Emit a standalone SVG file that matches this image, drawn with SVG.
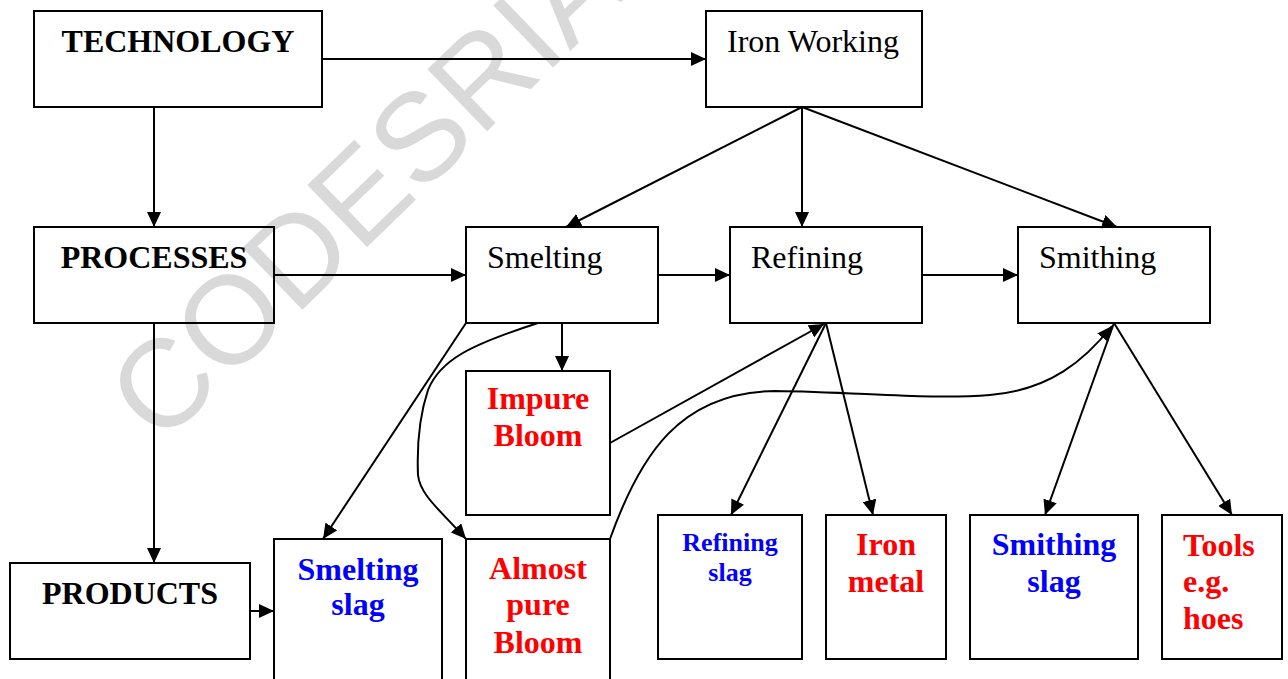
<svg xmlns="http://www.w3.org/2000/svg" width="1288" height="679" viewBox="0 0 1288 679">
<defs>
<marker id="ah" markerUnits="userSpaceOnUse" markerWidth="16" markerHeight="14" refX="15" refY="7" orient="auto">
<path d="M0,0 L15,7 L0,14 z" fill="#000"/>
</marker>
<style>
.box{fill:none;stroke:#000;stroke-width:2}
.c{fill:none;stroke:#000;stroke-width:2}
.a{marker-end:url(#ah)}
.t{font-family:"Liberation Serif","Times New Roman",serif;font-size:32px}
.b{font-weight:bold}
.m{text-anchor:middle}
.red{fill:#ff0000}
.blue{fill:#0000ff}
.wm{font-family:"Liberation Sans",Arial,sans-serif;font-size:125px;fill:#d9d9d9}
</style>
</defs>
<rect width="1288" height="679" fill="#fff"/>
<text class="wm" x="160" y="447" transform="rotate(-44 160 447)">CODESRIA</text>

<g id="connectors">
<line class="c a" x1="322" y1="59" x2="706" y2="59"/>
<line class="c a" x1="154" y1="107" x2="154" y2="227"/>
<line class="c a" x1="154" y1="323" x2="154" y2="563"/>
<line class="c a" x1="250" y1="611" x2="274" y2="611"/>
<line class="c a" x1="274" y1="275" x2="466" y2="275"/>
<line class="c a" x1="658" y1="275" x2="730" y2="275"/>
<line class="c a" x1="922" y1="275" x2="1018" y2="275"/>
<line class="c a" x1="802" y1="107" x2="566" y2="227"/>
<line class="c a" x1="802" y1="107" x2="802" y2="227"/>
<line class="c a" x1="802" y1="107" x2="1117" y2="227"/>
<line class="c a" x1="562" y1="323" x2="562" y2="371"/>
<line class="c a" x1="466" y1="323" x2="323" y2="539"/>
<path class="c a" d="M538,323 C470,345 440,360 428,390 C418,420 417,450 418,475 C420,495 440,510 466,539"/>
<line class="c a" x1="610" y1="443" x2="824" y2="324"/>
<path class="c a" d="M610,539 C640,455 680,392 775,391 C860,392 930,400 990,395 C1050,390 1085,360 1112,326"/>
<line class="c a" x1="826" y1="323" x2="731" y2="515"/>
<line class="c a" x1="826" y1="323" x2="873" y2="515"/>
<line class="c a" x1="1114" y1="323" x2="1045" y2="515"/>
<line class="c a" x1="1114" y1="323" x2="1232" y2="515"/>
</g>

<g id="technology"><rect class="box" x="34" y="11" width="288" height="96"/><text class="t b m" x="178" y="52">TECHNOLOGY</text></g>
<g id="iron-working"><rect class="box" x="706" y="11" width="216" height="96"/><text class="t" x="727" y="52">Iron Working</text></g>
<g id="processes"><rect class="box" x="34" y="227" width="240" height="96"/><text class="t b m" x="154" y="268">PROCESSES</text></g>
<g id="smelting"><rect class="box" x="466" y="227" width="192" height="96"/><text class="t" x="487" y="268">Smelting</text></g>
<g id="refining"><rect class="box" x="730" y="227" width="192" height="96"/><text class="t" x="751" y="268">Refining</text></g>
<g id="smithing"><rect class="box" x="1018" y="227" width="192" height="96"/><text class="t" x="1039" y="268">Smithing</text></g>
<g id="impure-bloom"><rect class="box" x="466" y="371" width="144" height="144"/><text class="t b m red" x="538" y="409">Impure</text><text class="t b m red" x="538" y="446">Bloom</text></g>
<g id="products"><rect class="box" x="10" y="563" width="240" height="96"/><text class="t b m" x="130" y="604">PRODUCTS</text></g>
<g id="smelting-slag"><rect class="box" x="274" y="539" width="168" height="150"/><text class="t b m blue" x="358" y="580">Smelting</text><text class="t b m blue" x="358" y="615">slag</text></g>
<g id="almost-pure-bloom"><rect class="box" x="466" y="539" width="144" height="150"/><text class="t b m red" x="538" y="579">Almost</text><text class="t b m red" x="538" y="615">pure</text><text class="t b m red" x="538" y="653">Bloom</text></g>
<g id="refining-slag"><rect class="box" x="658" y="515" width="144" height="144"/><text class="t b m blue" x="730" y="551" style="font-size:26px">Refining</text><text class="t b m blue" x="730" y="581" style="font-size:26px">slag</text></g>
<g id="iron-metal"><rect class="box" x="826" y="515" width="120" height="144"/><text class="t b m red" x="886" y="555">Iron</text><text class="t b m red" x="886" y="592">metal</text></g>
<g id="smithing-slag"><rect class="box" x="970" y="515" width="168" height="144"/><text class="t b m blue" x="1054" y="555">Smithing</text><text class="t b m blue" x="1054" y="592">slag</text></g>
<g id="tools"><rect class="box" x="1162" y="515" width="120" height="144"/><text class="t b red" x="1183" y="556">Tools</text><text class="t b red" x="1183" y="592">e.g.</text><text class="t b red" x="1183" y="629">hoes</text></g>
</svg>
